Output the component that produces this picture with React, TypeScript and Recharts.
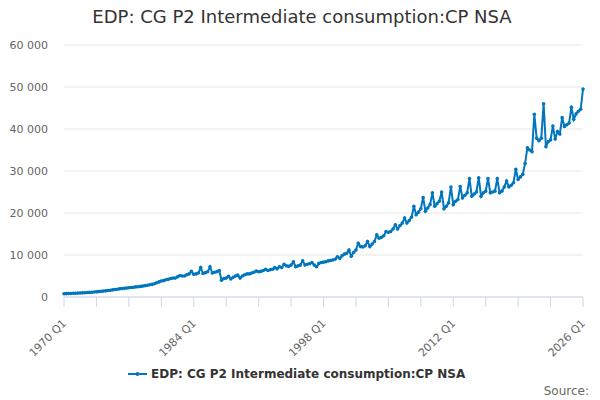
import { LineChart, Line, XAxis, YAxis, CartesianGrid } from "recharts";

const seriesName = "EDP: CG P2 Intermediate consumption:CP NSA";
const lineColor = "#0076be";

// quarterly values, 1970 Q1 to 2026 Q1, one row per year
const values: number[] = [
  780, 800, 820, 850, // 1970
  880, 900, 930, 960,
  990, 1020, 1060, 1100,
  1140, 1180, 1230, 1280,
  1340, 1400, 1470, 1540,
  1620, 1700, 1780, 1860, // 1975
  1940, 2000, 2060, 2120,
  2200, 2260, 2330, 2400,
  2450, 2520, 2600, 2700,
  2800, 2900, 3000, 3150,
  3400, 3600, 3800, 3900, // 1980
  4100, 4200, 4400, 4500,
  4500, 4800, 5100, 5000,
  5000, 5300, 5500, 6100,
  5400, 5500, 5700, 7000,
  5600, 5800, 6000, 7200, // 1985
  5700, 5900, 6000, 6300,
  4000, 4400, 4500, 4900,
  4300, 4700, 5000, 5200,
  4500, 5000, 5300, 5500,
  5500, 5700, 5900, 6200, // 1990
  6000, 6100, 6300, 6600,
  6300, 6500, 6600, 7000,
  6700, 7200, 7000, 7800,
  7400, 7300, 7600, 8400,
  7200, 7400, 7600, 8600, // 1995
  7600, 7800, 7900, 8200,
  7600, 7200, 8000, 8200,
  8300, 8400, 8600, 8700,
  8800, 9000, 9600, 9200,
  9800, 10200, 10400, 11200, // 2000
  9700, 10600, 11200, 12800,
  12000, 11900, 12200, 13200,
  12000, 12600, 13200, 14800,
  14000, 14200, 14600, 15600,
  15400, 15600, 16200, 17200, // 2005
  16200, 17000, 17600, 18800,
  17600, 18200, 19000, 21600,
  19600, 20200, 21000, 23700,
  20400, 21200, 22000, 24800,
  21600, 22200, 22800, 25000, // 2010
  21000, 21600, 22400, 26200,
  22000, 22800, 23200, 26300,
  23600, 24200, 24800, 28200,
  24000, 24500, 25000, 28400,
  24000, 24800, 25200, 28200, // 2015
  24800, 25000, 25200, 28200,
  24800, 25200, 26200, 27600,
  26200, 26600, 27200, 30400,
  28000, 28600, 29200, 31800,
  35500, 35000, 34600, 43500, // 2020
  37800, 37200, 37800, 46000,
  35800, 37000, 37400, 40700,
  37600, 39400, 38800, 42700,
  40600, 41000, 41400, 45200,
  42300, 43600, 44200, 44700, // 2025
  49500,
];

const quarters = values.map(
  (_, i) => `${1970 + Math.floor(i / 4)} Q${(i % 4) + 1}`
);

const xTickMarks = [
  "1970 Q1", "1973 Q3", "1977 Q1", "1980 Q3", "1984 Q1", "1987 Q3",
  "1991 Q1", "1994 Q3", "1998 Q1", "2001 Q3", "2005 Q1", "2008 Q3",
  "2012 Q1", "2015 Q3", "2019 Q1", "2022 Q3", "2026 Q1",
];
const xTickLabels = ["1970 Q1", "1984 Q1", "1998 Q1", "2012 Q1", "2026 Q1"];
const yTicks = [0, 10000, 20000, 30000, 40000, 50000, 60000];

const data = quarters.map((q, i) => ({ q, value: values[i] }));

const font = "'DejaVu Sans', sans-serif";

function formatThousands(v: number) {
  return String(v).replace(/\B(?=(\d{3})+(?!\d))/g, " ");
}

function XTick(props: any) {
  const { x, y, payload } = props;
  if (!xTickLabels.includes(payload.value)) return null;
  const ax = x + 3;
  const ay = y + 15;
  return (
    <text
      x={ax}
      y={ay}
      transform={`rotate(-45 ${ax} ${ay})`}
      textAnchor="end"
      fontSize={11}
      fontFamily={font}
      fill="#666666"
    >
      {payload.value}
    </text>
  );
}

export default function App() {
  return (
    <div
      style={{
        position: "absolute",
        left: 0,
        top: 0,
        width: 600,
        height: 400,
        background: "#ffffff",
        fontFamily: font,
      }}
    >
      <div
        style={{
          position: "absolute",
          top: 6,
          left: 2,
          width: 600,
          textAlign: "center",
          fontSize: 18,
          color: "#333333",
        }}
      >
        {seriesName}
      </div>

      <LineChart
        width={600}
        height={400}
        data={data}
        margin={{ top: 45, right: 17, left: 0, bottom: 0 }}
      >
        <CartesianGrid vertical={false} stroke="#e6e6e6" />
        <XAxis
          dataKey="q"
          ticks={xTickMarks}
          interval={0}
          tick={<XTick />}
          tickSize={10}
          tickLine={{ stroke: "#ccd6eb" }}
          axisLine={{ stroke: "#ccd6eb" }}
          height={103}
        />
        <YAxis
          domain={[0, 60000]}
          ticks={yTicks}
          width={64}
          axisLine={false}
          tickLine={false}
          tickMargin={10}
          tickFormatter={formatThousands}
          tick={{ fontSize: 11, fill: "#666666", fontFamily: font }}
        />
        <Line
          type="linear"
          dataKey="value"
          stroke={lineColor}
          strokeWidth={2}
          dot={{ r: 1.8, fill: lineColor, stroke: lineColor, strokeWidth: 0 }}
          isAnimationActive={false}
        />
      </LineChart>

      <div
        style={{
          position: "absolute",
          top: 367,
          left: 128,
          display: "flex",
          alignItems: "center",
          fontSize: 12,
          fontWeight: "bold",
          color: "#333333",
        }}
      >
        <svg width={20} height={12} style={{ marginRight: 3 }}>
          <line x1={0} y1={6} x2={19} y2={6} stroke={lineColor} strokeWidth={2} />
          <circle cx={9.5} cy={6} r={2} fill={lineColor} />
        </svg>
        <span>{seriesName}</span>
      </div>

      <div
        style={{
          position: "absolute",
          top: 384,
          right: 11,
          fontSize: 12,
          color: "#666666",
        }}
      >
        Source:
      </div>
    </div>
  );
}
